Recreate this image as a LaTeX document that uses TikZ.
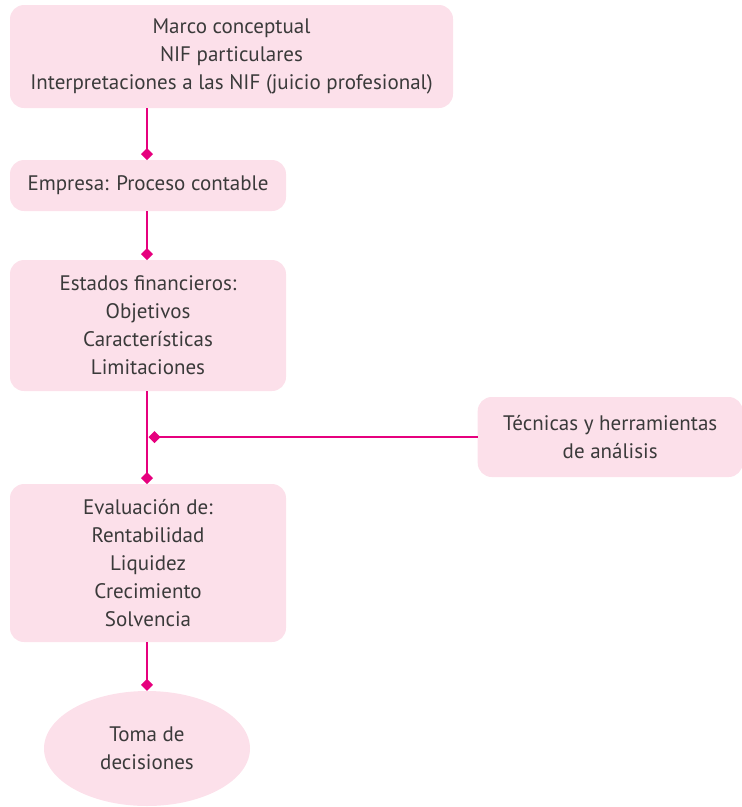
\documentclass[tikz,border=0pt]{standalone}
\usepackage{fontspec}
\setmainfont{PT Sans}
\usetikzlibrary{arrows.meta,shapes.geometric}
\definecolor{boxfill}{HTML}{FCE0EA}
\definecolor{linkcol}{HTML}{E6007E}
\definecolor{txtcol}{HTML}{3A3A3A}
\tikzset{
  pbox/.style={draw=none, fill=boxfill, rounded corners=14pt, align=center,
    text=txtcol, font=\fontsize{21}{28}\selectfont, inner sep=0pt},
  pell/.style={ellipse, draw=none, fill=boxfill, align=center,
    text=txtcol, font=\fontsize{21}{28}\selectfont, inner sep=0pt},
  link/.style={draw=linkcol, line width=2.8pt, -{Diamond[length=12pt,width=12pt]}},
}
\begin{document}
\begin{tikzpicture}[x=1pt,y=-1pt]
\useasboundingbox (0,0) rectangle (742,807);
\node[pbox, minimum width=443pt, minimum height=103pt] (b1) at (231.5,56.5)
  {Marco conceptual\\NIF particulares\\Interpretaciones a las NIF (juicio profesional)};
\node[pbox, minimum width=276pt, minimum height=51pt] (b2) at (148,185.5)
  {Empresa: Proceso contable};
\node[pbox, minimum width=276pt, minimum height=131pt] (b3) at (148,325.5)
  {Estados financieros:\\Objetivos\\Características\\Limitaciones};
\node[pbox, minimum width=265pt, minimum height=80pt, anchor=west] (b4) at (477.5,437)
  {Técnicas y herramientas\\de análisis};
\node[pbox, minimum width=276pt, minimum height=158pt] (b5) at (148,563)
  {Evaluación de:\\Rentabilidad\\Liquidez\\Crecimiento\\Solvencia};
\node[pell, minimum width=206pt, minimum height=115pt] (b6) at (147,748.5)
  {Toma de\\decisiones};
\coordinate (j) at (148.5,437);
\draw[link] (b1.south -| 147,0) -- (147,160);
\draw[link] (b2.south -| 147,0) -- (147,260);
\draw[link] (b3.south -| 147,0) -- (147,484);
\draw[link] (b4.west) -- (j);
\draw[link] (b5.south -| 147,0) -- (b6.north);
\end{tikzpicture}
\end{document}
